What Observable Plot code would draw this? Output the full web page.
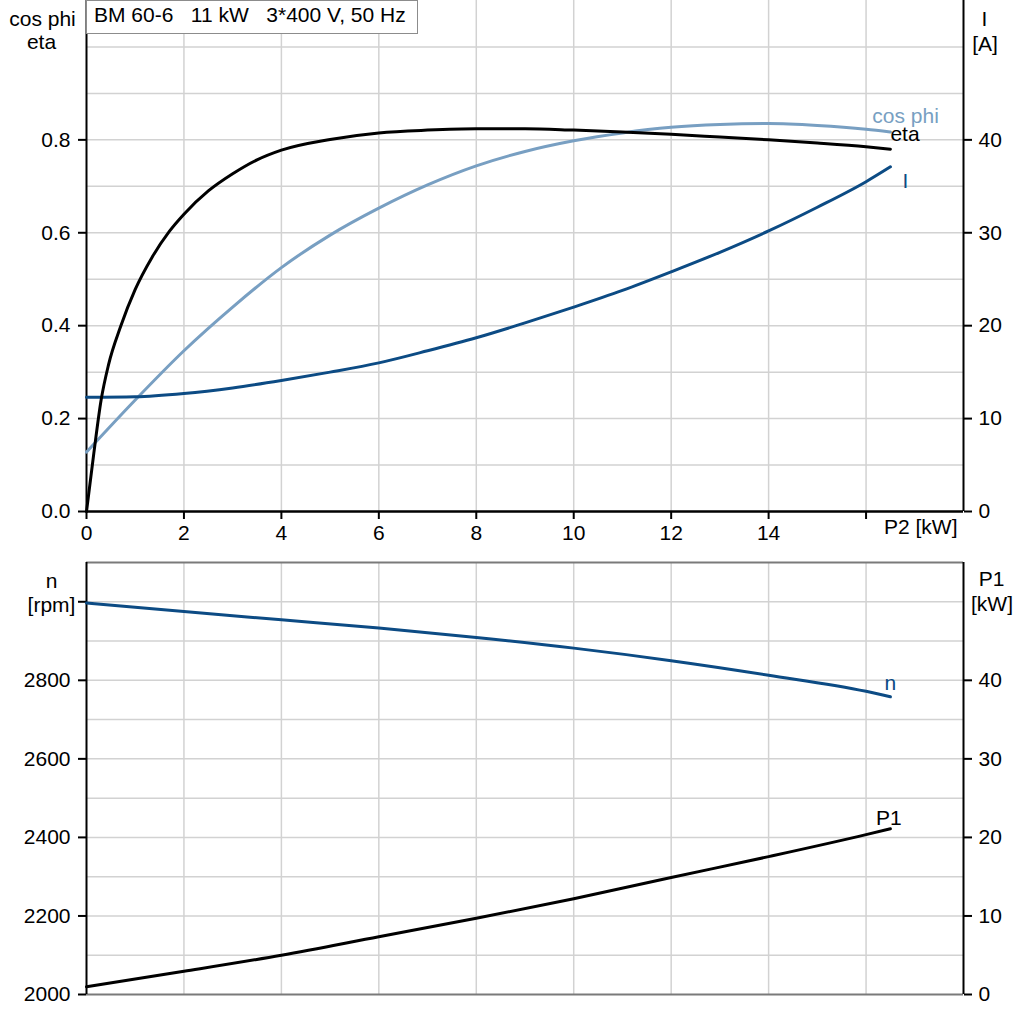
<!DOCTYPE html>
<html><head><meta charset="utf-8">
<script src="https://cdn.jsdelivr.net/npm/d3@7"></script>
<script src="https://cdn.jsdelivr.net/npm/@observablehq/plot@0.6"></script>
<style>
body{margin:0;background:#fff;font-family:"Liberation Sans",Arial,sans-serif;}
#wrap{position:relative;width:1024px;}
#wrap svg{display:block;overflow:visible;}
#title{position:absolute;left:86px;top:0;width:332px;height:34px;box-sizing:border-box;border:1px solid #8c8c8c;background:#fff;font-size:21px;line-height:28px;padding-left:7px;white-space:pre;color:#000;}
</style></head><body><div id="wrap"></div>
<script>
// ---- data ----
const titleText = "BM 60-6   11 kW   3*400 V, 50 Hz";

// efficiency eta vs P2 [kW]
const etaP2 = [0, 0.15, 0.3, 0.45, 0.7, 1.0, 1.35, 1.7, 2.0, 2.5, 3.0, 3.5, 4, 5, 6, 7, 8, 9, 10, 11, 12, 13, 14, 15, 16, 16.5];
const etaVals = [0, 0.125, 0.24, 0.315, 0.398, 0.478, 0.548, 0.603, 0.640, 0.690, 0.727, 0.757, 0.778, 0.801, 0.815, 0.821, 0.824, 0.824, 0.821, 0.817, 0.812, 0.806, 0.800, 0.793, 0.785, 0.780];

// power factor cos phi vs P2
const cosP2 = [0, 1, 2, 3, 4, 5, 6, 7, 8, 9, 10, 11, 12, 13, 14, 15, 16, 16.5];
const cosVals = [0.128, 0.240, 0.346, 0.440, 0.525, 0.595, 0.653, 0.703, 0.744, 0.775, 0.798, 0.815, 0.827, 0.833, 0.835, 0.831, 0.823, 0.817];

// current I [A] vs P2
const curP2 = [0, 1, 2, 3, 4, 5, 6, 7, 8, 9, 10, 11, 12, 13, 14, 15, 16, 16.5];
const curVals = [12.3, 12.35, 12.7, 13.3, 14.1, 15.0, 16.0, 17.3, 18.7, 20.3, 22.0, 23.8, 25.8, 27.9, 30.2, 32.75, 35.5, 37.1];

// speed n [rpm] vs P2
const nP2 = [0, 2, 4, 6, 8, 10, 12, 14, 16, 16.5];
const nVals = [2997, 2975, 2954, 2933, 2909, 2882, 2850, 2813, 2772, 2758];

// input power P1 [kW] vs P2
const p1P2 = [0, 2, 4, 6, 8, 10, 12, 14, 16, 16.5];
const p1Vals = [1.0, 2.95, 5.0, 7.35, 9.7, 12.2, 14.9, 17.55, 20.35, 21.1];

// axes ticks
const xTicks = [0, 2, 4, 6, 8, 10, 12, 14, 16];
const leftTopTicks = [0, 0.2, 0.4, 0.6, 0.8];
const rightTopTicks = [0, 10, 20, 30, 40];
const leftBotTicks = [2000, 2200, 2400, 2600, 2800, 3000];
const rightBotTicks = [0, 10, 20, 30, 40];

// ---- styling ----
const BLACK = "#000", LIGHT = "#789fc2", DARK = "#0c4b84", GRID = "#d2d2d2", FRAME_GRAY = "#7a7a7a";
const font = {fontFamily: "'Liberation Sans', Arial, sans-serif", fontSize: "21px", color: "#000", background: "transparent", overflow: "visible"};

// secondary-axis mappings onto the primary scales
const iK = 1.1 / 55;              // I [A] -> left (0..1.1) scale
const p1ToN = v => 2000 + v * 20; // P1 [kW] -> n scale (2000..3100)

const etaData = etaP2.map((x, i) => ({x, y: etaVals[i]}));
const cosData = cosP2.map((x, i) => ({x, y: cosVals[i]}));
const curData = curP2.map((x, i) => ({x, y: curVals[i] * iK}));
const nData = nP2.map((x, i) => ({x, y: nVals[i]}));
const p1Data = p1P2.map((x, i) => ({x, y: p1ToN(p1Vals[i])}));

const gridXVals = d3.range(2, 17, 2);
const gridYTop = d3.range(1, 11).map(k => k / 10);
const gridYBot = d3.range(2100, 3001, 100);

const T = (s, o) => Plot.text([s], {text: d => d, textAnchor: "middle", ...o});

const topPlot = Plot.plot({
  width: 1024, height: 548,
  marginLeft: 86, marginRight: 61, marginTop: 0, marginBottom: 37,
  style: font,
  x: {domain: [0, 18]},
  y: {domain: [0, 1.1]},
  marks: [
    Plot.gridX(gridXVals, {stroke: GRID, strokeOpacity: 1, strokeWidth: 1.5}),
    Plot.gridY(gridYTop, {stroke: GRID, strokeOpacity: 1, strokeWidth: 1.5}),
    Plot.axisX(xTicks, {tickSize: 8, tickPadding: 6, strokeWidth: 2, tickFormat: d => d === 16 ? "" : String(d), label: null}),
    Plot.axisY(leftTopTicks, {anchor: "left", tickSize: 8, tickPadding: 8, strokeWidth: 2, tickFormat: d3.format(".1f"), label: null}),
    Plot.axisY(rightTopTicks.map(v => v * iK), {anchor: "right", tickSize: 8, tickPadding: 7, strokeWidth: 2, tickFormat: d => String(Math.round(d / iK)), label: null}),
    Plot.ruleX([0, 18], {stroke: BLACK, strokeWidth: 2}),
    Plot.ruleY([0], {stroke: BLACK, strokeWidth: 2.5}),
    Plot.line(cosData, {x: "x", y: "y", stroke: LIGHT, strokeWidth: 3, curve: "monotone-x"}),
    Plot.line(curData, {x: "x", y: "y", stroke: DARK, strokeWidth: 3, curve: "monotone-x"}),
    Plot.line(etaData, {x: "x", y: "y", stroke: BLACK, strokeWidth: 3, curve: "monotone-x"}),
    Plot.text(["cos phi"], {text: d => d, x: 16.81, y: 0.85, fill: LIGHT}),
    Plot.text(["eta"], {text: d => d, x: 16.8, y: 0.8116, fill: BLACK}),
    Plot.text(["I"], {text: d => d, x: 16.81, y: 35.56 * iK, fill: DARK}),
    T("P2 [kW]", {frameAnchor: "bottom-right", dx: -6, dy: 22, textAnchor: "end"}),
    T("cos phi", {frameAnchor: "top-left", dx: -44, dy: 11}),
    T("eta", {frameAnchor: "top-left", dx: -45, dy: 33.5}),
    T("I", {frameAnchor: "top-right", dx: 21, dy: 10.5}),
    T("[A]", {frameAnchor: "top-right", dx: 21.5, dy: 36})
  ]
});

const botPlot = Plot.plot({
  width: 1024, height: 476,
  marginLeft: 86, marginRight: 61, marginTop: 14, marginBottom: 30,
  style: font,
  x: {domain: [0, 18], axis: null},
  y: {domain: [2000, 3100]},
  marks: [
    Plot.gridX(gridXVals, {stroke: GRID, strokeOpacity: 1, strokeWidth: 1.5}),
    Plot.gridY(gridYBot, {stroke: GRID, strokeOpacity: 1, strokeWidth: 1.5}),
    Plot.axisY(leftBotTicks, {anchor: "left", tickSize: 8, tickPadding: 8, strokeWidth: 2, tickFormat: d => d === 3000 ? "" : String(d), label: null}),
    Plot.axisY(rightBotTicks.map(p1ToN), {anchor: "right", tickSize: 8, tickPadding: 7, strokeWidth: 2, tickFormat: d => String(Math.round((d - 2000) / 20)), label: null}),
    Plot.ruleY([2000, 3100], {stroke: FRAME_GRAY, strokeWidth: 2}),
    Plot.ruleX([0, 18], {stroke: BLACK, strokeWidth: 2}),
    Plot.line(nData, {x: "x", y: "y", stroke: DARK, strokeWidth: 3, curve: "monotone-x"}),
    Plot.line(p1Data, {x: "x", y: "y", stroke: BLACK, strokeWidth: 3, curve: "monotone-x"}),
    Plot.text(["n"], {text: d => d, x: 16.5, y: 2792, fill: DARK}),
    Plot.text(["P1"], {text: d => d, x: 16.47, y: p1ToN(22.5), fill: BLACK}),
    T("n", {frameAnchor: "top-left", dx: -35, dy: 11}),
    T("[rpm]", {frameAnchor: "top-left", dx: -35, dy: 35}),
    T("P1", {frameAnchor: "top-right", dx: 28, dy: 9}),
    T("[kW]", {frameAnchor: "top-right", dx: 28.5, dy: 34})
  ]
});

const wrap = document.getElementById("wrap");
wrap.appendChild(topPlot);
wrap.appendChild(botPlot);
const title = document.createElement("div");
title.id = "title";
title.textContent = titleText;
wrap.appendChild(title);
</script>
</body></html>
